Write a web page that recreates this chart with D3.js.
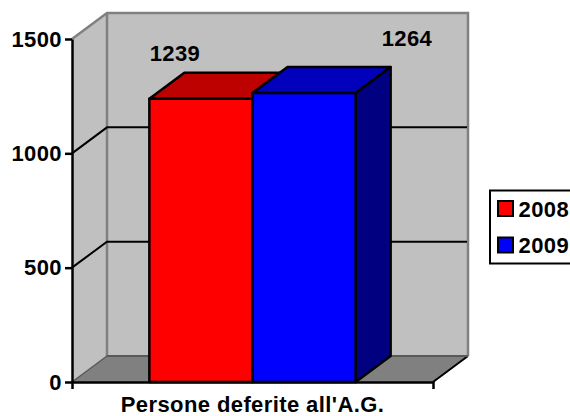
<!DOCTYPE html>
<html>
<head>
<meta charset="utf-8">
<script src="https://cdn.jsdelivr.net/npm/d3@7"></script>
<style>
  html, body { margin: 0; padding: 0; background: #fff; overflow: hidden; }
  svg { display: block; }
  text { font-family: "Liberation Sans", Arial, sans-serif; font-weight: bold; fill: #000; letter-spacing: 0.4px; }
</style>
</head>
<body>
<div id="chart"></div>
<script>
const category = ["Persone deferite all'A.G."];
const years = ["2008", "2009"];
const values = [1239, 1264];
const yTicks = [0, 500, 1000, 1500];
const frontColors = ["#ff0000", "#0000ff"];
const topColors = ["#bd0000", "#0000bd"];
const sideColors = ["#800000", "#000080"];

const width = 570, height = 416;
const depthX = 35, depthY = 26;
const plotLeft = 72, plotRight = 433, plotBottom = 382, plotTop = 39;

const svg = d3.select("#chart").append("svg")
  .attr("width", width)
  .attr("height", height);

const yScale = d3.scaleLinear().domain([0, 1500]).range([plotBottom, plotTop]);
const xScale = d3.scaleBand().domain(category).range([plotLeft, plotRight]);
const barScale = d3.scaleBand().domain(years)
  .range([xScale(category[0]), xScale(category[0]) + xScale.bandwidth()])
  .paddingInner(0).paddingOuter(0.75);

const pts = (a) => a.map((p) => p.join(",")).join(" ");

// walls and floor
const wallGroup = svg.append("g");
wallGroup.append("polygon")
  .attr("points", pts([[plotLeft, yScale(0)], [plotLeft + depthX, yScale(0) - depthY], [plotLeft + depthX, yScale(1500) - depthY], [plotLeft, yScale(1500)]]))
  .attr("fill", "#c0c0c0");
wallGroup.append("polygon")
  .attr("points", pts([[plotLeft + depthX, yScale(0) - depthY], [plotRight + depthX, yScale(0) - depthY], [plotRight + depthX, yScale(1500) - depthY], [plotLeft + depthX, yScale(1500) - depthY]]))
  .attr("fill", "#c0c0c0");
wallGroup.append("polygon")
  .attr("points", pts([[plotLeft, yScale(0)], [plotRight, yScale(0)], [plotRight + depthX, yScale(0) - depthY], [plotLeft + depthX, yScale(0) - depthY]]))
  .attr("fill", "#808080");
wallGroup.append("polyline")
  .attr("points", pts([[plotLeft, yScale(1500)], [plotLeft + depthX, yScale(1500) - depthY], [plotRight + depthX, yScale(1500) - depthY], [plotRight + depthX, yScale(0) - depthY]]))
  .attr("fill", "none")
  .attr("stroke", "#808080")
  .attr("stroke-width", 2.5);
wallGroup.append("polyline")
  .attr("points", pts([[plotLeft + depthX, yScale(0) - depthY], [plotLeft + depthX, yScale(1500) - depthY]]))
  .attr("fill", "none")
  .attr("stroke", "#808080")
  .attr("stroke-width", 2.5);
wallGroup.append("polyline")
  .attr("points", pts([[plotLeft, yScale(0)], [plotLeft + depthX, yScale(0) - depthY]]))
  .attr("stroke", "#595959")
  .attr("stroke-width", 1.5);
wallGroup.append("polyline")
  .attr("points", pts([[plotRight, yScale(0)], [plotRight + depthX, yScale(0) - depthY]]))
  .attr("stroke", "#000")
  .attr("stroke-width", 2);
wallGroup.append("line")
  .attr("x1", plotLeft + depthX).attr("x2", plotRight + depthX)
  .attr("y1", yScale(0) - depthY).attr("y2", yScale(0) - depthY)
  .attr("stroke", "#595959")
  .attr("stroke-width", 2);

// gridlines
svg.append("g")
  .selectAll("polyline")
  .data(yTicks.filter((d) => d > 0 && d < 1500))
  .join("polyline")
  .attr("points", (d) => pts([[plotLeft, yScale(d)], [plotLeft + depthX, yScale(d) - depthY], [plotRight + depthX - 1, yScale(d) - depthY]]))
  .attr("fill", "none")
  .attr("stroke", "#000")
  .attr("stroke-width", 2);

// bars
const bar = svg.append("g")
  .selectAll("g")
  .data(values.map((v, i) => ({ year: years[i], value: v, i: i })))
  .join("g");

bar.append("polygon")
  .attr("points", (d) => {
    const x0 = barScale(d.year), x1 = x0 + barScale.bandwidth(), y = yScale(d.value);
    return pts([[x0, y], [x0 + depthX, y - depthY], [x1 + depthX, y - depthY], [x1, y]]);
  })
  .attr("fill", (d) => topColors[d.i]);
bar.append("polygon")
  .attr("points", (d) => {
    const x1 = barScale(d.year) + barScale.bandwidth(), y = yScale(d.value);
    return pts([[x1, y], [x1 + depthX, y - depthY], [x1 + depthX, yScale(0) - depthY], [x1, yScale(0)]]);
  })
  .attr("fill", (d) => sideColors[d.i]);
bar.append("rect")
  .attr("x", (d) => barScale(d.year))
  .attr("y", (d) => yScale(d.value))
  .attr("width", barScale.bandwidth())
  .attr("height", (d) => yScale(0) - yScale(d.value))
  .attr("fill", (d) => frontColors[d.i]);
bar.selectAll("polygon, rect")
  .attr("stroke", "#000")
  .attr("stroke-width", 2.5)
  .attr("stroke-linejoin", "round");

// value labels
svg.append("g")
  .selectAll("text")
  .data(values)
  .join("text")
  .attr("x", (d, i) => [175, 407][i])
  .attr("y", (d, i) => [61, 46][i])
  .attr("text-anchor", "middle")
  .attr("font-size", 22)
  .text((d) => d);

// axes
const yAxis = svg.append("g")
  .attr("transform", `translate(${plotLeft},0)`)
  .call(d3.axisLeft(yScale).tickValues(yTicks).tickFormat(d3.format("d")).tickSize(7).tickPadding(3).tickSizeOuter(0));
yAxis.selectAll("path, line").attr("stroke", "#000").attr("stroke-width", 2.5);
yAxis.selectAll("text").attr("font-size", 22).attr("font-family", null);

const xAxis = svg.append("g")
  .attr("transform", `translate(0,${plotBottom})`)
  .call(d3.axisBottom(xScale).tickSizeInner(0).tickSizeOuter(7).tickPadding(14));
xAxis.selectAll("path").attr("stroke", "#000").attr("stroke-width", 2.5);
xAxis.selectAll("text").attr("font-size", 22).attr("font-family", null);

// legend
const legend = svg.append("g");
legend.append("rect")
  .attr("x", 490).attr("y", 190.5)
  .attr("width", 90).attr("height", 73)
  .attr("fill", "#fff").attr("stroke", "#000").attr("stroke-width", 2);
const legendItem = legend.selectAll("g")
  .data(years)
  .join("g")
  .attr("transform", (d, i) => `translate(498,${[201, 237.5][i]})`);
legendItem.append("rect")
  .attr("width", 15).attr("height", 15)
  .attr("fill", (d, i) => frontColors[i])
  .attr("stroke", "#000").attr("stroke-width", 2);
legendItem.append("text")
  .attr("x", 20.5).attr("y", 15.5)
  .attr("font-size", 22)
  .text((d) => d);
</script>
</body>
</html>
